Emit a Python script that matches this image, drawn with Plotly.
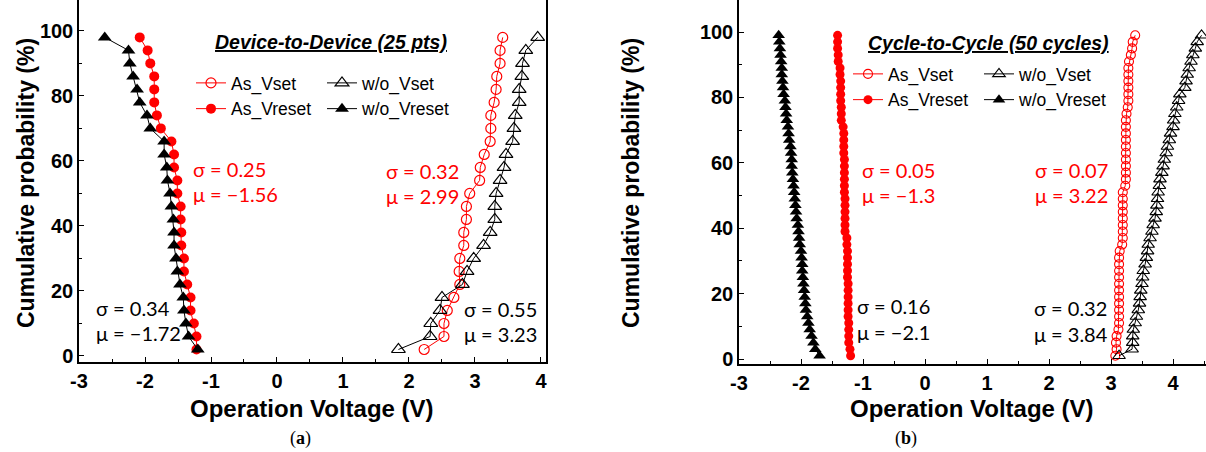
import plotly.graph_objects as go

# ---- data -----------------------------------------------------------------
# (a) device-to-device, 25 points, listed from top (98 %) to bottom (2 %)
prob_25 = [98, 94, 90, 86, 82, 78, 74, 70, 66, 62, 58, 54, 50,
           46, 42, 38, 34, 30, 26, 22, 18, 14, 10, 6, 2]

d2d_as_vset = [3.42, 3.38, 3.38, 3.33, 3.32, 3.29, 3.24, 3.24, 3.23, 3.14, 3.08, 3.07, 2.92,
               2.87, 2.87, 2.83, 2.83, 2.77, 2.76, 2.77, 2.68, 2.58, 2.53, 2.53, 2.23]
d2d_wo_vset = [3.95, 3.77, 3.72, 3.71, 3.67, 3.67, 3.61, 3.59, 3.57, 3.47, 3.44, 3.38, 3.32,
               3.30, 3.30, 3.23, 3.13, 2.98, 2.88, 2.81, 2.50, 2.47, 2.33, 2.32, 1.84]
d2d_as_vreset = [-2.08, -1.96, -1.92, -1.86, -1.86, -1.86, -1.82, -1.76, -1.60, -1.56, -1.56, -1.51, -1.51,
                 -1.46, -1.46, -1.45, -1.45, -1.41, -1.41, -1.36, -1.31, -1.31, -1.26, -1.22, -1.22]
d2d_wo_vreset = [-2.61, -2.25, -2.23, -2.18, -2.12, -2.08, -1.97, -1.92, -1.71, -1.71, -1.67, -1.66, -1.62,
                 -1.60, -1.57, -1.56, -1.56, -1.53, -1.51, -1.47, -1.42, -1.41, -1.38, -1.34, -1.20]

# (b) cycle-to-cycle, 50 cycles, listed from top (99 %) to bottom (1 %)
prob_50 = [99, 97, 95, 93, 91, 89, 87, 85, 83, 81, 79, 77, 75, 73, 71, 69, 67,
           65, 63, 61, 59, 57, 55, 53, 51, 49, 47, 45, 43, 41, 39, 37, 35, 33,
           31, 29, 27, 25, 23, 21, 19, 17, 15, 13, 11, 9, 7, 5, 3, 1]

c2c_as_vset = [3.39, 3.35, 3.34, 3.32, 3.29, 3.28, 3.28, 3.28, 3.28, 3.28, 3.28, 3.27,
               3.25, 3.24, 3.24, 3.24, 3.24, 3.24, 3.24, 3.24, 3.24, 3.24, 3.24, 3.23,
               3.19, 3.19, 3.19, 3.19, 3.19, 3.19, 3.19, 3.19, 3.18,
               3.14, 3.13, 3.13, 3.13, 3.13, 3.13, 3.13, 3.13, 3.13, 3.13, 3.13, 3.13, 3.12,
               3.09, 3.08, 3.09, 3.07]
c2c_wo_vset = [4.46, 4.39, 4.36, 4.32, 4.29, 4.26, 4.23, 4.21, 4.19, 4.11,
               4.09, 4.06, 4.03, 4.01, 4.00, 3.96, 3.94, 3.91, 3.89, 3.86,
               3.84, 3.82, 3.79, 3.78, 3.76, 3.75, 3.74, 3.73, 3.71, 3.68,
               3.66, 3.63, 3.60, 3.59, 3.57, 3.55, 3.52, 3.51, 3.50, 3.48,
               3.47, 3.46, 3.44, 3.41, 3.39, 3.36, 3.35, 3.35, 3.34, 3.13]
c2c_as_vreset = [-1.41, -1.41, -1.41, -1.40, -1.40,
                 -1.37, -1.37, -1.36, -1.36, -1.36, -1.36, -1.35, -1.35, -1.35,
                 -1.32, -1.31, -1.31, -1.31, -1.31, -1.30, -1.30, -1.30, -1.30, -1.30, -1.30,
                 -1.29, -1.29, -1.29, -1.29, -1.29, -1.29,
                 -1.26, -1.26, -1.25, -1.25, -1.25, -1.25, -1.25, -1.24, -1.24, -1.24, -1.24,
                 -1.24, -1.24, -1.23, -1.23, -1.23,
                 -1.23, -1.21, -1.20]
c2c_wo_vreset = [-2.36, -2.35, -2.34, -2.33, -2.32, -2.31, -2.31, -2.30, -2.29, -2.28,
                 -2.26, -2.25, -2.24, -2.23, -2.21, -2.20, -2.19, -2.17, -2.16, -2.15,
                 -2.15, -2.14, -2.13, -2.12, -2.11, -2.10, -2.09, -2.08, -2.07, -2.05,
                 -2.04, -2.03, -2.02, -2.00, -1.99, -1.98, -1.98, -1.97, -1.96, -1.95,
                 -1.94, -1.93, -1.92, -1.90, -1.88, -1.86, -1.83, -1.80, -1.77, -1.70]

x_ticks = [-3, -2, -1, 0, 1, 2, 3, 4]
x_labels = ['-3', '-2', '-1', '0', '1', '2', '3', '4']
y_ticks = [0, 20, 40, 60, 80, 100]

W, H = 1206, 452
RED = '#ff0000'
SANS = 'Arial, Liberation Sans, sans-serif'
CAL = 'Lato, Noto Sans, sans-serif'


def px(x):
    return x / W


def py(y):
    return 1 - y / H


# ---- traces ---------------------------------------------------------------
traces = [
    # left panel
    go.Scatter(x=d2d_as_vset, y=prob_25, name='As_Vset', mode='lines+markers',
               line=dict(color=RED, width=1),
               marker=dict(symbol='circle-open', size=10, color=RED, line=dict(width=1.2)),
               legend='legend'),
    go.Scatter(x=d2d_as_vreset, y=prob_25, name='As_Vreset', mode='lines+markers',
               line=dict(color=RED, width=1),
               marker=dict(symbol='circle', size=10, color=RED),
               legend='legend'),
    go.Scatter(x=d2d_wo_vset, y=prob_25, name='w/o_Vset', mode='lines+markers',
               line=dict(color='black', width=1),
               marker=dict(symbol='triangle-up-open', size=12, color='black', line=dict(width=1.2)),
               legend='legend2'),
    go.Scatter(x=d2d_wo_vreset, y=prob_25, name='w/o_Vreset', mode='lines+markers',
               line=dict(color='black', width=1),
               marker=dict(symbol='triangle-up', size=12, color='black'),
               legend='legend2'),
    # right panel
    go.Scatter(x=c2c_as_vset, y=prob_50, name='As_Vset', mode='lines+markers',
               line=dict(color=RED, width=1),
               marker=dict(symbol='circle-open', size=9, color=RED, line=dict(width=1.1)),
               xaxis='x2', yaxis='y2', legend='legend3'),
    go.Scatter(x=c2c_as_vreset, y=prob_50, name='As_Vreset', mode='lines+markers',
               line=dict(color=RED, width=1),
               marker=dict(symbol='circle', size=9, color=RED),
               xaxis='x2', yaxis='y2', legend='legend3'),
    go.Scatter(x=c2c_wo_vset, y=prob_50, name='w/o_Vset', mode='lines+markers',
               line=dict(color='black', width=1),
               marker=dict(symbol='triangle-up-open', size=11, color='black', line=dict(width=1.1)),
               xaxis='x2', yaxis='y2', legend='legend4'),
    go.Scatter(x=c2c_wo_vreset, y=prob_50, name='w/o_Vreset', mode='lines+markers',
               line=dict(color='black', width=1),
               marker=dict(symbol='triangle-up', size=11, color='black'),
               xaxis='x2', yaxis='y2', legend='legend4'),
]

fig = go.Figure(data=traces)

# ---- axes -----------------------------------------------------------------
xcommon = dict(tickvals=x_ticks, ticktext=x_labels, ticks='inside', ticklen=5, tickwidth=1,
               tickcolor='black',
               minor=dict(dtick=0.5, ticks='inside', ticklen=3, tickcolor='black'),
               showline=True, linecolor='black', linewidth=1.5, showgrid=False, zeroline=False,
               automargin=False,
               tickfont=dict(family=SANS, size=20, color='black', weight='bold'))
ycommon = dict(tickvals=y_ticks, ticks='inside', ticklen=5, tickwidth=1, tickcolor='black',
               minor=dict(dtick=10, ticks='inside', ticklen=3, tickcolor='black'),
               showline=True, linecolor='black', linewidth=1.5, showgrid=False, zeroline=False,
               automargin=False,
               tickfont=dict(family=SANS, size=20, color='black', weight='bold'))

fig.update_layout(
    xaxis=dict(xcommon, domain=[px(79), px(546)], range=[-3, 4.076], anchor='y'),
    yaxis=dict(ycommon, domain=[py(362), 1], range=[-1.85, 109.5], anchor='x', mirror=True),
    xaxis2=dict(xcommon, domain=[px(739), 1], range=[-3, 4.532], anchor='y2'),
    yaxis2=dict(ycommon, domain=[py(364), 1], range=[-1.53, 109.8], anchor='x2'),
)

# ---- legends (one per column of the 2x2 legend blocks) --------------------
leg = dict(font=dict(family=SANS, size=17.5, color='black'), bgcolor='rgba(0,0,0,0)',
           xanchor='left', yanchor='top', borderwidth=0, itemwidth=30)
fig.update_layout(
    legend=dict(leg, x=px(191), y=py(65)),
    legend2=dict(leg, x=px(322), y=py(65)),
    legend3=dict(leg, x=px(848), y=py(56)),
    legend4=dict(leg, x=px(979), y=py(56)),
)

# ---- text -----------------------------------------------------------------
ann = []


def note(x, y, text, color='black', size=20, family=CAL, anchor='left', angle=0):
    ann.append(dict(x=px(x), y=py(y), xref='paper', yref='paper', text=text, showarrow=False,
                    xanchor=anchor, yanchor='middle', textangle=angle,
                    font=dict(family=family, size=size, color=color)))


note(331, 42, '<b><i><u>Device-to-Device (25 pts)</u></i></b>', size=19.5, family=SANS, anchor='center')
note(988, 43, '<b><i><u>Cycle-to-Cycle (50 cycles)</u></i></b>', size=19.5, family=SANS, anchor='center')

note(191, 169, 'σ = 0.25', RED)
note(191, 194, 'μ = −1.56', RED)
note(384, 171, 'σ = 0.32', RED)
note(384, 196, 'μ = 2.99', RED)
note(94, 308, 'σ = 0.34')
note(94, 333, 'μ = −1.72')
note(462, 309, 'σ = 0.55')
note(462, 334, 'μ = 3.23')

note(860, 170, 'σ = 0.05', RED)
note(860, 195, 'μ = −1.3', RED)
note(1033, 170, 'σ = 0.07', RED)
note(1033, 195, 'μ = 3.22', RED)
note(855, 306, 'σ = 0.16')
note(855, 332, 'μ = −2.1')
note(1032, 308, 'σ = 0.32')
note(1032, 334, 'μ = 3.84')

note(312, 408, '<b>Operation Voltage (V)</b>', size=24, family=SANS, anchor='center')
note(972, 408, '<b>Operation Voltage (V)</b>', size=24, family=SANS, anchor='center')
note(26, 183, '<b>Cumulative probability (%)</b>', size=23, family=SANS, anchor='center', angle=-90)
note(631, 183, '<b>Cumulative probability (%)</b>', size=23, family=SANS, anchor='center', angle=-90)

note(300, 438, '(<b>a</b>)', size=18, family='Liberation Serif, DejaVu Serif, serif', anchor='center')
note(906, 438, '(<b>b</b>)', size=18, family='Liberation Serif, DejaVu Serif, serif', anchor='center')

fig.update_layout(
    annotations=ann,
    width=W, height=H,
    margin=dict(l=0, r=0, t=0, b=0),
    paper_bgcolor='white', plot_bgcolor='white',
    showlegend=True,
)

# the page body has a default 8px margin; drop it so the figure sits at 0,0
fig.write_html("out.html", config={'displayModeBar': False},
               post_script="document.body.style.margin='0';")
